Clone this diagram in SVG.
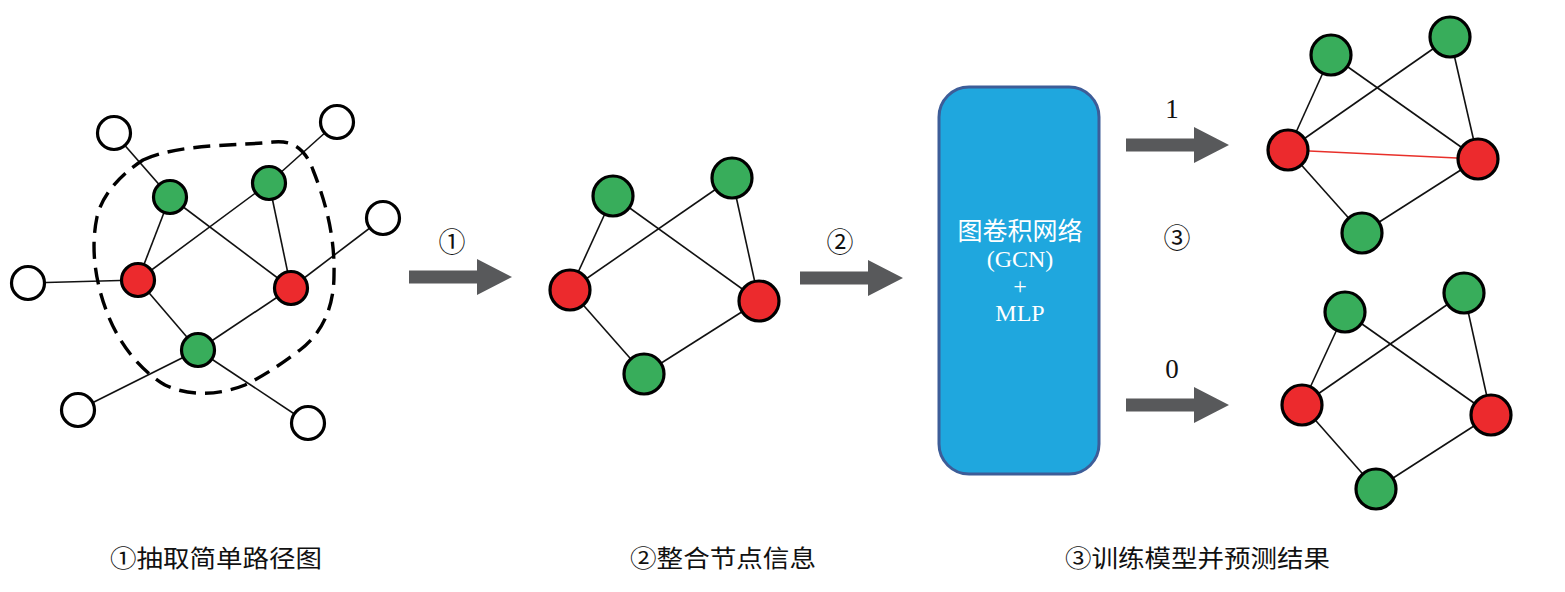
<svg xmlns="http://www.w3.org/2000/svg" xmlns:xlink="http://www.w3.org/1999/xlink" width="1565" height="592" viewBox="0 0 1565 592">
<style>
.e{stroke:#111;stroke-width:1.6;fill:none}
.er{stroke:#e8302a;stroke-width:1.6;fill:none}
.g{fill:#38ad5b;stroke:#000;stroke-width:3.2}
.r{fill:#ec2a2d;stroke:#000;stroke-width:3.2}
.w{fill:#fff;stroke:#000;stroke-width:3.2}
.arr{fill:#58595b}
.lbl{font-family:"Liberation Serif","Noto Sans CJK SC",serif;font-size:27px;fill:#111;text-anchor:middle}
.cap{font-family:"Noto Sans CJK SC","Liberation Sans",sans-serif;font-size:24px;fill:#111}
.box{font-family:"Liberation Serif","Noto Sans CJK SC",serif;font-size:24px;fill:#fff;text-anchor:middle}
</style>
<defs>
<path id="arrow" class="arr" d="M0,-6.5 H68 V-18 L103,0 L68,18 V6.5 H0 Z"/>
</defs>
<rect width="1565" height="592" fill="#fff"/>

<g id="connectors">
<!-- graph 1 -->
<line class="e" x1="114" y1="133" x2="170" y2="197"/>
<line class="e" x1="337" y1="122" x2="269" y2="183"/>
<line class="e" x1="383" y1="218" x2="291" y2="288"/>
<line class="e" x1="28" y1="283" x2="138" y2="280"/>
<line class="e" x1="78" y1="410" x2="198" y2="350"/>
<line class="e" x1="308" y1="423" x2="198" y2="350"/>
<line class="e" x1="170" y1="197" x2="138" y2="280"/>
<line class="e" x1="170" y1="197" x2="291" y2="288"/>
<line class="e" x1="269" y1="183" x2="138" y2="280"/>
<line class="e" x1="269" y1="183" x2="291" y2="288"/>
<line class="e" x1="138" y1="280" x2="198" y2="350"/>
<line class="e" x1="291" y1="288" x2="198" y2="350"/>
<!-- graph 2 -->
<line class="e" x1="613" y1="196" x2="570" y2="290"/>
<line class="e" x1="613" y1="196" x2="759" y2="301"/>
<line class="e" x1="732" y1="178" x2="570" y2="290"/>
<line class="e" x1="732" y1="178" x2="759" y2="301"/>
<line class="e" x1="570" y1="290" x2="644" y2="374"/>
<line class="e" x1="759" y1="301" x2="644" y2="374"/>
<!-- graph 3 top -->
<line class="e" x1="1331" y1="55" x2="1288" y2="150"/>
<line class="e" x1="1331" y1="55" x2="1478" y2="159"/>
<line class="e" x1="1450" y1="37" x2="1288" y2="150"/>
<line class="e" x1="1450" y1="37" x2="1478" y2="159"/>
<line class="e" x1="1288" y1="150" x2="1362" y2="233"/>
<line class="e" x1="1478" y1="159" x2="1362" y2="233"/>
<line class="er" x1="1288" y1="150" x2="1478" y2="159"/>
<!-- graph 3 bottom -->
<line class="e" x1="1345" y1="312" x2="1302" y2="405"/>
<line class="e" x1="1345" y1="312" x2="1491" y2="415"/>
<line class="e" x1="1464" y1="293" x2="1302" y2="405"/>
<line class="e" x1="1464" y1="293" x2="1491" y2="415"/>
<line class="e" x1="1302" y1="405" x2="1376" y2="489"/>
<line class="e" x1="1491" y1="415" x2="1376" y2="489"/>
<!-- process arrows -->
<use xlink:href="#arrow" x="409" y="277"/>
<use xlink:href="#arrow" x="800" y="278"/>
<use xlink:href="#arrow" x="1126" y="145"/>
<use xlink:href="#arrow" x="1126" y="405"/>
</g>

<path id="subgraph-boundary" d="M143,160 C180,143 240,146 273,142 C292,140 305,148 313,170 C325,200 335,235 334,275 C334,310 320,335 300,350 C280,365 265,375 245,385 C220,395 190,397 165,385 C140,370 120,345 108,315 C96,285 90,250 97,217 C102,195 120,175 143,160 Z" fill="none" stroke="#000" stroke-width="3.4" stroke-dasharray="17 9"/>

<g id="g1-nodes">
<g id="g1-w1"><circle class="w" cx="114" cy="133" r="16.5"/></g>
<g id="g1-w2"><circle class="w" cx="337" cy="122" r="16.5"/></g>
<g id="g1-w3"><circle class="w" cx="383" cy="218" r="16.5"/></g>
<g id="g1-w4"><circle class="w" cx="28" cy="283" r="16.5"/></g>
<g id="g1-w5"><circle class="w" cx="78" cy="410" r="16.5"/></g>
<g id="g1-w6"><circle class="w" cx="308" cy="423" r="16.5"/></g>
<g id="g1-g1"><circle class="g" cx="170" cy="197" r="16.5"/></g>
<g id="g1-g2"><circle class="g" cx="269" cy="183" r="16.5"/></g>
<g id="g1-r1"><circle class="r" cx="138" cy="280" r="16.5"/></g>
<g id="g1-r2"><circle class="r" cx="291" cy="288" r="16.5"/></g>
<g id="g1-g3"><circle class="g" cx="198" cy="350" r="16.5"/></g>
</g>

<g id="g2-nodes">
<g id="g2-g1"><ellipse class="g" cx="613" cy="196" rx="20" ry="20"/></g>
<g id="g2-g2"><ellipse class="g" cx="732" cy="178" rx="20" ry="20"/></g>
<g id="g2-r1"><ellipse class="r" cx="570" cy="290" rx="20" ry="20"/></g>
<g id="g2-r2"><ellipse class="r" cx="759" cy="301" rx="20" ry="20"/></g>
<g id="g2-g3"><ellipse class="g" cx="644" cy="374" rx="20" ry="20"/></g>
</g>

<g id="model">
<rect x="939" y="87" width="160" height="387" rx="30" ry="30" fill="#1fa7de" stroke="#3d5d98" stroke-width="3"/>
<text class="box" x="1020" y="240" style="font-family:'Noto Sans CJK SC',sans-serif;font-size:25px">图卷积网络</text>
<text class="box" x="1020" y="267">(GCN)</text>
<text class="box" x="1020" y="294">+</text>
<text class="box" x="1020" y="321">MLP</text>
</g>

<g id="g3-nodes">
<g id="g3-g1"><ellipse class="g" cx="1331" cy="55" rx="20" ry="20"/></g>
<g id="g3-g2"><ellipse class="g" cx="1450" cy="37" rx="20" ry="20"/></g>
<g id="g3-r1"><ellipse class="r" cx="1288" cy="150" rx="20" ry="20"/></g>
<g id="g3-r2"><ellipse class="r" cx="1478" cy="159" rx="20" ry="20"/></g>
<g id="g3-g3"><ellipse class="g" cx="1362" cy="233" rx="20" ry="20"/></g>
</g>

<g id="g4-nodes">
<g id="g4-g1"><ellipse class="g" cx="1345" cy="312" rx="20" ry="20"/></g>
<g id="g4-g2"><ellipse class="g" cx="1464" cy="293" rx="20" ry="20"/></g>
<g id="g4-r1"><ellipse class="r" cx="1302" cy="405" rx="20" ry="20"/></g>
<g id="g4-r2"><ellipse class="r" cx="1491" cy="415" rx="20" ry="20"/></g>
<g id="g4-g3"><ellipse class="g" cx="1376" cy="489" rx="20" ry="20"/></g>
</g>

<g id="labels">
<text class="lbl" x="452" y="252">①</text>
<text class="lbl" x="840" y="252">②</text>
<text class="lbl" x="1177" y="248">③</text>
<text class="lbl" x="1172" y="118">1</text>
<text class="lbl" x="1172" y="378">0</text>
<text class="cap" x="110" y="567" textLength="212" lengthAdjust="spacingAndGlyphs">①抽取简单路径图</text>
<text class="cap" x="630" y="567" textLength="186" lengthAdjust="spacingAndGlyphs">②整合节点信息</text>
<text class="cap" x="1065" y="567" textLength="265" lengthAdjust="spacingAndGlyphs">③训练模型并预测结果</text>
</g>
</svg>
